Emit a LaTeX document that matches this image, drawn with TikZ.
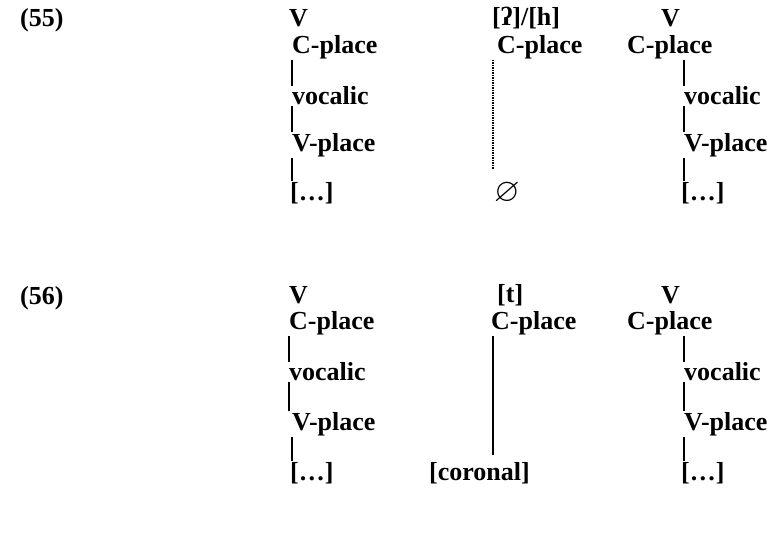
\documentclass[tikz,border=0pt]{standalone}
\usepackage{fontspec}
\setmainfont{Liberation Serif}
\usepackage{amssymb}
\usetikzlibrary{positioning}

\tikzset{
  feat/.style={font=\bfseries\fontsize{26}{30}\selectfont, inner xsep=0pt, inner ysep=1pt, anchor=west},
  assoc/.style={line width=1.5pt},
  dotassoc/.style={line width=1.5pt, densely dotted},
}

\begin{document}
\begin{tikzpicture}[x=1pt,y=-1pt]
  \useasboundingbox (0,0) rectangle (767,532);
  % (55)
  \node[feat] (ex55) at (20,20) {(55)};
  \node[feat] (v1) at (289,18) {V};
  \node[feat] (glot) at (492,18) {[ʔ]/[h]};
  \node[feat] (v2) at (661,18) {V};
  \node[feat] (cp1) at (292,47) {C-place};
  \node[feat] (cp2) at (497,47) {C-place};
  \node[feat] (cp3) at (627,47) {C-place};
  \node[feat] (voc1) at (292,96) {vocalic};
  \node[feat] (voc2) at (684,96) {vocalic};
  \node[feat] (vp1) at (292,145) {V-place};
  \node[feat] (vp2) at (684,145) {V-place};
  \node[feat] (dots1) at (290,193) {[\ldots]};
  \node[feat] (zero) at (494,193) {\fontsize{33}{34}\selectfont$\varnothing$};
  \node[feat] (dots2) at (681,193) {[\ldots]};
  \path[assoc]
    (cp1.south west) edge (cp1.south west |- voc1.north)
    (voc1.south west) edge (voc1.south west |- vp1.north)
    (vp1.south west) edge (vp1.south west |- dots1.north)
    (cp3.south -| voc2.west) edge (voc2.north west)
    (voc2.south west) edge (voc2.south west |- vp2.north)
    (vp2.south west) edge (vp2.south west |- dots2.north);
  \draw[dotassoc] ([xshift=-4pt]cp2.south west) -- ([xshift=-4pt,yshift=12pt]cp2.south west |- zero.north);
  % (56)
  \node[feat] (ex56) at (20,298) {(56)};
  \node[feat] (v3) at (289,295) {V};
  \node[feat] (tee) at (497,295) {[t]};
  \node[feat] (v4) at (661,295) {V};
  \node[feat] (cp4) at (289,323) {C-place};
  \node[feat] (cp5) at (491,323) {C-place};
  \node[feat] (cp6) at (627,323) {C-place};
  \node[feat] (voc3) at (289,372) {vocalic};
  \node[feat] (voc4) at (684,372) {vocalic};
  \node[feat] (vp3) at (292,424) {V-place};
  \node[feat] (vp4) at (684,424) {V-place};
  \node[feat] (dots3) at (290,473) {[\ldots]};
  \node[feat] (cor) at (429,473) {[coronal]};
  \node[feat] (dots4) at (681,473) {[\ldots]};
  \path[assoc]
    (cp4.south west) edge (cp4.south west |- voc3.north)
    (voc3.south west) edge (voc3.south west |- vp3.north)
    (vp3.south west) edge (vp3.south west |- dots3.north)
    (cp6.south -| voc4.west) edge (voc4.north west)
    (voc4.south west) edge (voc4.south west |- vp4.north)
    (vp4.south west) edge (vp4.south west |- dots4.north)
    ([xshift=2pt]cp5.south west) edge ([xshift=2pt,yshift=6pt]cp5.south west |- cor.north);
\end{tikzpicture}
\end{document}
